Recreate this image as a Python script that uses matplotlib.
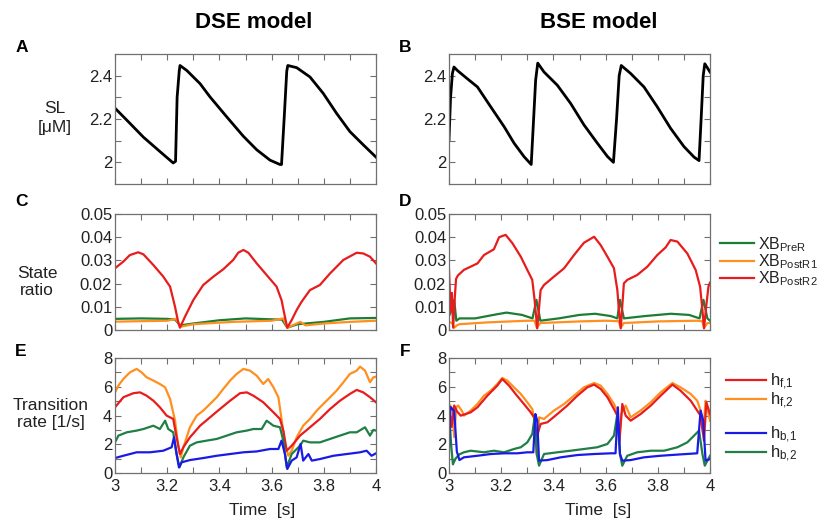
import matplotlib
matplotlib.use('Agg')
import matplotlib.pyplot as plt
import numpy as np

plt.rcParams['font.family'] = ['Liberation Sans', 'DejaVu Sans']
plt.rcParams['mathtext.fontset'] = 'custom'
plt.rcParams['mathtext.rm'] = 'Liberation Sans'
plt.rcParams['mathtext.it'] = 'Liberation Sans'

# ---- data ----
# A: DSE sarcomere length
a_t = [3.0, 3.045, 3.109, 3.172, 3.223, 3.232, 3.238, 3.246, 3.249, 3.275, 3.326, 3.364, 3.428, 3.492,
       3.543, 3.594, 3.632, 3.638, 3.648, 3.658, 3.662, 3.696, 3.747, 3.798, 3.849, 3.9, 3.951, 4.0]
a_sl = [2.25, 2.195, 2.116, 2.05, 1.997, 2.005, 2.3, 2.42, 2.447, 2.424, 2.363, 2.302, 2.21, 2.12,
        2.058, 2.01, 1.99, 1.99, 2.2, 2.42, 2.447, 2.437, 2.394, 2.318, 2.226, 2.142, 2.081, 2.024]
# B: BSE sarcomere length
b_t = [3.0, 3.006, 3.013, 3.019, 3.032, 3.07, 3.109, 3.16, 3.211, 3.249, 3.287, 3.315, 3.322, 3.332, 3.34,
       3.364, 3.415, 3.466, 3.517, 3.568, 3.607, 3.63, 3.642, 3.652, 3.66, 3.696, 3.747, 3.798, 3.849,
       3.9, 3.939, 3.958, 3.966, 3.974, 3.98, 4.0]
b_sl = [2.104, 2.3, 2.41, 2.44, 2.424, 2.386, 2.348, 2.256, 2.165, 2.089, 2.027, 1.99, 2.15, 2.38, 2.458,
        2.417, 2.356, 2.272, 2.173, 2.089, 2.027, 2.0, 2.2, 2.4, 2.447, 2.41, 2.348, 2.256, 2.157,
        2.073, 2.024, 2.008, 2.2, 2.4, 2.455, 2.417]

# C: DSE state ratios
c_t = [3.0, 3.032, 3.057, 3.089, 3.109, 3.147, 3.185, 3.211, 3.23, 3.243, 3.249, 3.268, 3.3, 3.338, 3.377,
       3.415, 3.453, 3.472, 3.492, 3.511, 3.543, 3.581, 3.619, 3.638, 3.651, 3.66, 3.677, 3.696, 3.715,
       3.747, 3.785, 3.824, 3.875, 3.926, 3.951, 3.977, 4.0]
c_postr2 = [0.0266, 0.0295, 0.0323, 0.0335, 0.0326, 0.028, 0.023, 0.0187, 0.010, 0.0029, 0.001, 0.0057,
            0.0129, 0.0194, 0.023, 0.0262, 0.0302, 0.0333, 0.0345, 0.0333, 0.0287, 0.0237, 0.0187, 0.0129,
            0.0057, 0.001, 0.0043, 0.0086, 0.0122, 0.0172, 0.0194, 0.0244, 0.0302, 0.0333, 0.033, 0.0316,
            0.0287]
c_pre_t = [3.0, 3.1, 3.2, 3.23, 3.25, 3.3, 3.4, 3.5, 3.6, 3.64, 3.66, 3.7, 3.8, 3.9, 4.0]
c_prer = [0.0048, 0.005, 0.0048, 0.0045, 0.002, 0.0028, 0.0042, 0.005, 0.0046, 0.0045, 0.001, 0.0025,
          0.0035, 0.005, 0.0052]
c_post1_t = [3.0, 3.1, 3.2, 3.232, 3.255, 3.3, 3.45, 3.6, 3.645, 3.66, 3.68, 3.71, 3.73, 3.8, 3.9, 4.0]
c_postr1 = [0.0036, 0.0038, 0.004, 0.0048, 0.0015, 0.0025, 0.0035, 0.004, 0.005, 0.001, 0.002, 0.0035,
            0.002, 0.0028, 0.0035, 0.004]

# D: BSE state ratios
d_t = [3.0, 3.006, 3.011, 3.016, 3.021, 3.027, 3.034, 3.057, 3.109, 3.134, 3.172, 3.192, 3.217, 3.243,
       3.275, 3.3, 3.319, 3.328, 3.338, 3.351, 3.364, 3.402, 3.441, 3.479, 3.517, 3.556, 3.581, 3.607,
       3.632, 3.645, 3.651, 3.658, 3.67, 3.683, 3.721, 3.76, 3.798, 3.83, 3.849, 3.875, 3.913, 3.945,
       3.962, 3.971, 3.977, 3.986, 3.994, 4.0]
d_postr2 = [0.026, 0.008, 0.016, 0.001, 0.012, 0.022, 0.0235, 0.0259, 0.0287, 0.0323, 0.0348, 0.040,
            0.041, 0.0374, 0.0316, 0.0259, 0.0216, 0.0129, 0.0007, 0.0172, 0.0194, 0.023, 0.0266, 0.0323,
            0.0376, 0.0402, 0.0366, 0.0316, 0.0266, 0.0172, 0.0086, 0.0007, 0.0201, 0.0216, 0.0237,
            0.0273, 0.0323, 0.0356, 0.0388, 0.0381, 0.033, 0.0259, 0.0187, 0.0086, 0.0007, 0.0107,
            0.0187, 0.0204]
d_pre_t = [3.0, 3.012, 3.02, 3.028, 3.04, 3.1, 3.17, 3.22, 3.28, 3.32, 3.335, 3.35, 3.42, 3.5, 3.56, 3.62,
           3.645, 3.655, 3.67, 3.75, 3.85, 3.92, 3.96, 3.975, 3.99, 4.0]
d_prer = [0.006, 0.009, 0.013, 0.004, 0.005, 0.005, 0.0065, 0.0075, 0.0065, 0.005, 0.013, 0.004, 0.005,
          0.0065, 0.007, 0.006, 0.005, 0.013, 0.005, 0.006, 0.007, 0.0065, 0.005, 0.013, 0.005, 0.004]
d_post1_t = [3.0, 3.012, 3.02, 3.03, 3.04, 3.15, 3.3, 3.328, 3.336, 3.35, 3.5, 3.6, 3.65, 3.658, 3.67,
             3.8, 3.95, 3.97, 3.978, 3.99, 4.0]
d_postr1 = [0.0035, 0.003, 0.001, 0.002, 0.0025, 0.0033, 0.004, 0.004, 0.001, 0.003, 0.0037, 0.004,
            0.0038, 0.001, 0.003, 0.0037, 0.004, 0.0038, 0.001, 0.003, 0.003]

# E: DSE transition rates
e_f2_t = [3.0, 3.013, 3.032, 3.057, 3.083, 3.102, 3.121, 3.147, 3.172, 3.192, 3.211, 3.23, 3.243, 3.252,
          3.262, 3.287, 3.313, 3.338, 3.364, 3.39, 3.415, 3.441, 3.466, 3.492, 3.517, 3.543, 3.568, 3.587,
          3.607, 3.626, 3.638, 3.651, 3.664, 3.677, 3.696, 3.721, 3.747, 3.773, 3.798, 3.824, 3.849,
          3.875, 3.9, 3.926, 3.939, 3.958, 3.977, 3.99, 4.0]
e_hf2 = [5.6, 6.08, 6.54, 7.0, 7.24, 7.0, 6.66, 6.43, 6.19, 5.96, 5.15, 3.64, 1.79, 1.09, 1.79, 3.18,
         3.99, 4.34, 4.8, 5.27, 5.85, 6.43, 6.89, 7.24, 7.12, 6.77, 6.19, 6.54, 5.96, 5.27, 3.76, 2.02,
         1.2, 1.55, 2.48, 3.29, 3.76, 4.34, 4.8, 5.27, 5.73, 6.31, 6.89, 7.12, 7.4, 7.12, 6.31, 6.66, 6.7]
e_f1_t = [3.0, 3.032, 3.07, 3.096, 3.121, 3.147, 3.172, 3.198, 3.223, 3.236, 3.249, 3.262, 3.287, 3.326,
          3.364, 3.402, 3.441, 3.479, 3.505, 3.53, 3.568, 3.607, 3.632, 3.645, 3.658, 3.677, 3.709, 3.747,
          3.785, 3.824, 3.862, 3.9, 3.926, 3.951, 3.977, 4.0]
e_hf1 = [4.57, 5.27, 5.55, 5.61, 5.38, 5.03, 4.57, 3.99, 3.76, 2.48, 1.32, 1.79, 2.48, 3.29, 3.87, 4.45,
         5.03, 5.55, 5.61, 5.38, 4.92, 4.22, 3.76, 2.95, 1.55, 1.9, 2.6, 3.18, 3.76, 4.45, 5.03, 5.5,
         5.78, 5.61, 5.27, 4.92]
e_b2_t = [3.0, 3.013, 3.045, 3.083, 3.109, 3.147, 3.172, 3.192, 3.204, 3.223, 3.236, 3.247, 3.262, 3.287,
          3.313, 3.351, 3.39, 3.428, 3.466, 3.505, 3.53, 3.562, 3.581, 3.607, 3.632, 3.645, 3.658, 3.677,
          3.709, 3.721, 3.747, 3.785, 3.824, 3.862, 3.9, 3.926, 3.958, 3.977, 3.99, 4.0]
e_hb2 = [2.13, 2.6, 2.83, 2.95, 3.06, 3.29, 3.06, 3.64, 3.06, 2.83, 1.32, 0.39, 1.09, 1.9, 2.13, 2.25,
         2.37, 2.6, 2.83, 2.95, 3.06, 3.06, 3.64, 3.29, 3.18, 2.25, 0.39, 1.32, 1.9, 2.25, 2.13, 2.13,
         2.37, 2.6, 2.83, 2.83, 3.18, 2.6, 3.0, 2.95]
e_b1_t = [3.0, 3.032, 3.083, 3.134, 3.185, 3.217, 3.226, 3.236, 3.245, 3.255, 3.287, 3.338, 3.39, 3.441,
          3.492, 3.543, 3.594, 3.626, 3.638, 3.651, 3.66, 3.677, 3.696, 3.711, 3.721, 3.741, 3.754, 3.785,
          3.837, 3.888, 3.939, 3.964, 3.983, 4.0]
e_hb1 = [1.04, 1.2, 1.44, 1.44, 1.55, 1.79, 2.48, 1.32, 0.39, 0.74, 0.9, 1.04, 1.2, 1.32, 1.44, 1.5,
         1.67, 1.67, 2.25, 1.32, 0.28, 0.86, 1.09, 2.02, 0.86, 1.32, 0.86, 0.97, 1.2, 1.32, 1.44, 1.55,
         1.2, 1.37]

# F: BSE transition rates
f_f2_t = [3.0, 3.012, 3.02, 3.028, 3.035, 3.05, 3.057, 3.083, 3.109, 3.134, 3.16, 3.185, 3.204, 3.223,
          3.249, 3.275, 3.3, 3.319, 3.328, 3.336, 3.345, 3.364, 3.402, 3.441, 3.479, 3.517, 3.556, 3.581,
          3.607, 3.632, 3.645, 3.652, 3.66, 3.677, 3.696, 3.734, 3.773, 3.811, 3.856, 3.887, 3.926,
          3.951, 3.964, 3.974, 3.983, 4.0]
f_hf2 = [4.8, 4.5, 2.5, 4.6, 4.7, 4.3, 3.99, 4.34, 4.8, 5.38, 5.73, 6.19, 6.61, 6.43, 5.96, 5.5, 4.92,
         4.45, 3.64, 1.32, 3.87, 3.76, 4.34, 4.8, 5.38, 5.96, 6.26, 6.08, 5.5, 4.8, 4.34, 2.02, 4.1, 4.69,
         3.87, 4.34, 4.92, 5.61, 6.26, 5.96, 5.5, 5.03, 4.34, 2.71, 5.03, 3.64]
f_f1_t = [3.0, 3.01, 3.02, 3.03, 3.045, 3.083, 3.109, 3.147, 3.185, 3.204, 3.23, 3.255, 3.287, 3.313,
          3.326, 3.336, 3.351, 3.377, 3.415, 3.453, 3.492, 3.53, 3.556, 3.581, 3.607, 3.632, 3.645, 3.653,
          3.664, 3.677, 3.696, 3.734, 3.773, 3.811, 3.856, 3.887, 3.926, 3.951, 3.964, 3.977, 3.986, 4.0]
f_hf1 = [4.6, 3.2, 4.7, 4.3, 3.99, 4.22, 4.57, 5.38, 6.08, 6.54, 6.08, 5.5, 4.8, 4.22, 3.87, 2.5, 3.41,
         3.53, 4.1, 4.69, 5.38, 5.96, 6.15, 5.85, 5.27, 4.45, 3.99, 2.25, 4.8, 3.99, 3.64, 4.1, 4.69,
         5.38, 6.15, 5.73, 5.03, 4.34, 3.99, 2.25, 4.92, 4.1]
f_b1_t = [3.0, 3.005, 3.01, 3.02, 3.03, 3.04, 3.057, 3.109, 3.16, 3.211, 3.262, 3.3, 3.323, 3.331, 3.338,
          3.345, 3.377, 3.428, 3.492, 3.556, 3.619, 3.638, 3.647, 3.655, 3.664, 3.696, 3.747, 3.811,
          3.875, 3.951, 3.964, 3.974, 3.983, 4.0]
f_hb1 = [1.5, 4.6, 4.5, 4.3, 1.5, 0.9, 1.09, 1.2, 1.32, 1.37, 1.37, 1.44, 1.44, 4.1, 3.64, 0.86, 0.9,
         1.09, 1.25, 1.32, 1.37, 1.37, 4.57, 1.32, 0.86, 0.9, 1.09, 1.2, 1.28, 1.37, 4.34, 3.64, 0.86, 0.97]
f_b2_t = [3.0, 3.008, 3.015, 3.025, 3.04, 3.057, 3.083, 3.134, 3.172, 3.211, 3.249, 3.275, 3.3, 3.319,
          3.328, 3.336, 3.345, 3.364, 3.415, 3.466, 3.517, 3.568, 3.607, 3.632, 3.645, 3.655, 3.664,
          3.683, 3.721, 3.773, 3.824, 3.875, 3.913, 3.945, 3.958, 3.971, 3.98, 4.0]
f_hb2 = [4.4, 2.0, 0.6, 1.0, 1.3, 1.44, 1.55, 1.44, 1.55, 1.44, 1.67, 1.79, 2.13, 2.71, 3.87, 1.32, 0.51,
         1.32, 1.44, 1.55, 1.67, 1.79, 2.02, 2.6, 4.1, 1.32, 0.51, 1.2, 1.44, 1.55, 1.55, 1.79, 2.13,
         2.71, 2.95, 1.32, 0.51, 1.2]

x_ticks = [3, 3.2, 3.4, 3.6, 3.8, 4]
x_ticklabels = ['3', '3.2', '3.4', '3.6', '3.8', '4']

RED = '#e81c1c'
ORANGE = '#ff8f1f'
GREEN = '#1c7d33'
GREEN2 = '#1f7f45'
BLUE = '#1a1ae6'
TXT = '#222222'
SPINE = '#707070'

fig = plt.figure(figsize=(8.17, 5.21), dpi=100)
W, H = 817.0, 521.0


def make_ax(left, top, bottom):
    return fig.add_axes([left / W, 1 - bottom / H, 261 / W, (bottom - top) / H])


def style(ax, yt, ylab, ymin, ylim, show_x):
    ax.set_xlim(3, 4)
    ax.set_ylim(*ylim)
    ax.set_xticks(np.arange(3, 4.001, 0.1), minor=True)
    ax.set_xticks(x_ticks)
    ax.set_yticks(ymin, minor=True)
    ax.set_yticks(yt)
    ax.set_yticklabels(ylab)
    if show_x:
        ax.set_xticklabels(x_ticklabels)
    else:
        ax.set_xticklabels([])
    ax.tick_params(which='both', direction='in', top=True, right=True, length=4, width=0.8,
                   color=SPINE, labelcolor=TXT, labelsize=12)
    ax.tick_params(axis='y', pad=2)
    ax.tick_params(axis='x', pad=4)
    for s in ax.spines.values():
        s.set_color(SPINE)
        s.set_linewidth(0.9)


axA = make_ax(115, 54, 184)
axB = make_ax(449, 54, 184)
axC = make_ax(115, 214, 330)
axD = make_ax(449, 214, 330)
axE = make_ax(115, 358, 473)
axF = make_ax(449, 358, 473)

axA.plot(a_t, a_sl, color='black', lw=2.0)
axB.plot(b_t, b_sl, color='black', lw=2.0)
for ax in (axA, axB):
    style(ax, [2, 2.2, 2.4], ['2', '2.2', '2.4'], [2.1, 2.3], (1.9, 2.5), False)

axC.plot(c_pre_t, c_prer, color=GREEN, lw=1.6)
axC.plot(c_post1_t, c_postr1, color=ORANGE, lw=1.6)
axC.plot(c_t, c_postr2, color=RED, lw=1.6)
lD1, = axD.plot(d_pre_t, d_prer, color=GREEN, lw=1.6)
lD2, = axD.plot(d_post1_t, d_postr1, color=ORANGE, lw=1.6)
lD3, = axD.plot(d_t, d_postr2, color=RED, lw=1.6)
for ax in (axC, axD):
    style(ax, [0, 0.01, 0.02, 0.03, 0.04, 0.05], ['0', '0.01', '0.02', '0.03', '0.04', '0.05'],
          [], (0, 0.05), False)

axE.plot(e_f2_t, e_hf2, color=ORANGE, lw=1.6)
axE.plot(e_f1_t, e_hf1, color=RED, lw=1.6)
axE.plot(e_b2_t, e_hb2, color=GREEN2, lw=1.6)
axE.plot(e_b1_t, e_hb1, color=BLUE, lw=1.6)
lF2, = axF.plot(f_f2_t, f_hf2, color=ORANGE, lw=1.6)
lF1, = axF.plot(f_f1_t, f_hf1, color=RED, lw=1.6)
lF4, = axF.plot(f_b2_t, f_hb2, color=GREEN2, lw=1.6)
lF3, = axF.plot(f_b1_t, f_hb1, color=BLUE, lw=1.6)
for ax in (axE, axF):
    style(ax, [0, 2, 4, 6, 8], ['0', '2', '4', '6', '8'], [1, 3, 5, 7], (0, 8), True)

# legends
leg_kw = dict(frameon=False, handletextpad=0.25, labelspacing=-0.1, borderpad=0, borderaxespad=0,
              bbox_transform=fig.transFigure, loc='upper left')
legD = axD.legend([lD1, lD2, lD3],
                  [r'XB$_{\mathrm{PreR}}$', r'XB$_{\mathrm{PostR1}}$', r'XB$_{\mathrm{PostR2}}$'],
                  bbox_to_anchor=(720 / W, 1 - 235 / H), fontsize=11.5, handlelength=2.1, **leg_kw)
for t in legD.get_texts():
    t.set_color(TXT)
legF1 = axF.legend([lF1, lF2], [r'h$_{\mathrm{f{,}1}}$', r'h$_{\mathrm{f{,}2}}$'],
                   bbox_to_anchor=(726 / W, 1 - 372 / H), fontsize=12, handlelength=2.4, **leg_kw)
axF.add_artist(legF1)
legF2 = axF.legend([lF3, lF4], [r'h$_{\mathrm{b{,}1}}$', r'h$_{\mathrm{b{,}2}}$'],
                   bbox_to_anchor=(726 / W, 1 - 425 / H), fontsize=12, handlelength=2.4, **leg_kw)
for lg in (legF1, legF2):
    for t in lg.get_texts():
        t.set_color(TXT)

# titles, panel letters, axis labels
fig.text(254 / W, 1 - 23 / H, 'DSE model', ha='center', va='center', fontsize=16, fontweight='bold', color='black')
fig.text(599 / W, 1 - 23 / H, 'BSE model', ha='center', va='center', fontsize=16, fontweight='bold', color='black')
for lab, x, y in [('A', 22, 47), ('B', 405, 47), ('C', 21, 202), ('D', 405, 202), ('E', 21, 351), ('F', 405, 351)]:
    fig.text(x / W, 1 - y / H, lab, ha='center', va='center', fontsize=12.5, fontweight='bold', color='black')

fig.text(55 / W, 1 - 118 / H, 'SL\n[\u03bcM]', ha='center', va='center', fontsize=12.5, color=TXT, linespacing=1.3)
fig.text(37 / W, 1 - 282 / H, 'State\nratio', ha='center', va='center', fontsize=12.5, color=TXT, linespacing=1.2)
fig.text(51 / W, 1 - 414 / H, 'Transition\nrate [1/s]', ha='center', va='center', fontsize=12.5, color=TXT,
         linespacing=1.25)
fig.text(262 / W, 1 - 510 / H, 'Time  [s]', ha='center', va='center', fontsize=12.5, color=TXT)
fig.text(598 / W, 1 - 510 / H, 'Time  [s]', ha='center', va='center', fontsize=12.5, color=TXT)

plt.savefig('out.png', dpi=100)
